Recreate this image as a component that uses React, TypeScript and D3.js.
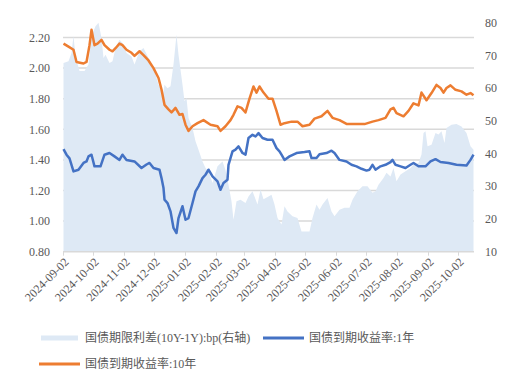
import React from 'react';
import * as d3 from 'd3';

// 国债期限利差(10Y-1Y), bp, right axis
const spread: [string, number][] = [
  ['2024-09-02', 67.7], ['2024-09-07', 68.2], ['2024-09-10', 70.7], ['2024-09-12', 75.9],
  ['2024-09-14', 69.7], ['2024-09-18', 65.2], ['2024-09-23', 65.2], ['2024-09-27', 67.2],
  ['2024-09-30', 75.9], ['2024-10-04', 78.9], ['2024-10-07', 80], ['2024-10-10', 75.3],
  ['2024-10-12', 69.2], ['2024-10-14', 70.2], ['2024-10-18', 67.7], ['2024-10-21', 68.2],
  ['2024-10-24', 72.3], ['2024-10-28', 74.8], ['2024-10-31', 73.8], ['2024-11-04', 70.7],
  ['2024-11-09', 69.7], ['2024-11-12', 67.2], ['2024-11-17', 71.3], ['2024-11-21', 72.3],
  ['2024-11-26', 69.2], ['2024-12-01', 66.2], ['2024-12-06', 61.0], ['2024-12-09', 59.6],
  ['2024-12-10', 57], ['2024-12-12', 61], ['2024-12-15', 60], ['2024-12-18', 60.6],
  ['2024-12-21', 67.2], ['2024-12-24', 76.3], ['2024-12-26', 70.2], ['2024-12-30', 61],
  ['2025-01-01', 56], ['2025-01-03', 57], ['2025-01-05', 50.9], ['2025-01-09', 47.8],
  ['2025-01-12', 43.8], ['2025-01-15', 41.2], ['2025-01-19', 37.6], ['2025-01-22', 35.6],
  ['2025-01-25', 34.6], ['2025-01-29', 31], ['2025-02-03', 36.1], ['2025-02-08', 37.6],
  ['2025-02-11', 35], ['2025-02-14', 30.5], ['2025-02-17', 25.4], ['2025-02-19', 19.8],
  ['2025-02-22', 25.4], ['2025-02-26', 25.9], ['2025-03-03', 24.9], ['2025-03-06', 26.9],
  ['2025-03-10', 28.5], ['2025-03-15', 24.4], ['2025-03-18', 29], ['2025-03-21', 26],
  ['2025-03-26', 26.9], ['2025-03-29', 27.4], ['2025-04-01', 24.4], ['2025-04-04', 20.3],
  ['2025-04-08', 18.3], ['2025-04-11', 23.9], ['2025-04-14', 22.3], ['2025-04-19', 20.8],
  ['2025-04-24', 20.3], ['2025-04-28', 16.2], ['2025-05-06', 16.2], ['2025-05-09', 20.3],
  ['2025-05-13', 24.4], ['2025-05-16', 22.8], ['2025-05-19', 24.4], ['2025-05-24', 26.4],
  ['2025-05-28', 22.3], ['2025-05-31', 20.8], ['2025-06-05', 22.8], ['2025-06-10', 23.4],
  ['2025-06-15', 23.4], ['2025-06-18', 25.9], ['2025-06-23', 28.5], ['2025-06-28', 30],
  ['2025-07-03', 30], ['2025-07-08', 28], ['2025-07-11', 28.5], ['2025-07-14', 30.5],
  ['2025-07-19', 32.5], ['2025-07-22', 34.1], ['2025-07-26', 33], ['2025-07-29', 35.6],
  ['2025-08-01', 31.5], ['2025-08-05', 33.6], ['2025-08-10', 34.6], ['2025-08-15', 35.6],
  ['2025-08-18', 36.6], ['2025-08-23', 37.1], ['2025-08-26', 39.7], ['2025-08-28', 46.3],
  ['2025-08-30', 46.8], ['2025-09-01', 42.2], ['2025-09-05', 42.7], ['2025-09-09', 46.3],
  ['2025-09-12', 45.8], ['2025-09-15', 46.8], ['2025-09-18', 43.2], ['2025-09-20', 47.8],
  ['2025-09-25', 48.8], ['2025-09-30', 49], ['2025-10-05', 48.3], ['2025-10-10', 46.3],
  ['2025-10-14', 42.2], ['2025-10-17', 41.2],
];

// 国债到期收益率:1年
const yield1y: [string, number][] = [
  ['2024-09-02', 1.47], ['2024-09-05', 1.434], ['2024-09-08', 1.41], ['2024-09-12', 1.325],
  ['2024-09-17', 1.336], ['2024-09-22', 1.38], ['2024-09-25', 1.39], ['2024-09-27', 1.423],
  ['2024-09-30', 1.434], ['2024-10-03', 1.358], ['2024-10-09', 1.358], ['2024-10-13', 1.434],
  ['2024-10-18', 1.445], ['2024-10-23', 1.423], ['2024-10-28', 1.40], ['2024-10-31', 1.434],
  ['2024-11-04', 1.40], ['2024-11-12', 1.39], ['2024-11-19', 1.347], ['2024-11-24', 1.37],
  ['2024-11-27', 1.38], ['2024-12-01', 1.347], ['2024-12-07', 1.336], ['2024-12-09', 1.281],
  ['2024-12-11', 1.216], ['2024-12-12', 1.14], ['2024-12-15', 1.118], ['2024-12-18', 1.064],
  ['2024-12-21', 0.955], ['2024-12-24', 0.922], ['2024-12-26', 1.02], ['2024-12-30', 1.097],
  ['2025-01-02', 1.009], ['2025-01-05', 1.02], ['2025-01-09', 1.118], ['2025-01-12', 1.194],
  ['2025-01-15', 1.227], ['2025-01-19', 1.281], ['2025-01-22', 1.303], ['2025-01-25', 1.336],
  ['2025-01-29', 1.292], ['2025-02-03', 1.26], ['2025-02-06', 1.205], ['2025-02-09', 1.249],
  ['2025-02-13', 1.27], ['2025-02-14', 1.368], ['2025-02-18', 1.456], ['2025-02-21', 1.467],
  ['2025-02-24', 1.488], ['2025-02-28', 1.445], ['2025-03-03', 1.434], ['2025-03-06', 1.543],
  ['2025-03-10', 1.564], ['2025-03-13', 1.553], ['2025-03-16', 1.575], ['2025-03-20', 1.543],
  ['2025-03-25', 1.532], ['2025-03-30', 1.532], ['2025-04-03', 1.477], ['2025-04-06', 1.456],
  ['2025-04-08', 1.434], ['2025-04-11', 1.40], ['2025-04-16', 1.423], ['2025-04-23', 1.445],
  ['2025-05-01', 1.451], ['2025-05-06', 1.456], ['2025-05-08', 1.412], ['2025-05-13', 1.412],
  ['2025-05-16', 1.437], ['2025-05-23', 1.445], ['2025-05-28', 1.46], ['2025-05-31', 1.445],
  ['2025-06-05', 1.40], ['2025-06-12', 1.39], ['2025-06-17', 1.368], ['2025-06-22', 1.358],
  ['2025-06-27', 1.342], ['2025-07-02', 1.33], ['2025-07-05', 1.336], ['2025-07-08', 1.368],
  ['2025-07-11', 1.336], ['2025-07-16', 1.358], ['2025-07-21', 1.368], ['2025-07-26', 1.386],
  ['2025-07-28', 1.40], ['2025-07-31', 1.368], ['2025-08-05', 1.358], ['2025-08-10', 1.347],
  ['2025-08-15', 1.368], ['2025-08-18', 1.38], ['2025-08-23', 1.358], ['2025-08-30', 1.358],
  ['2025-09-04', 1.39], ['2025-09-09', 1.405], ['2025-09-14', 1.386], ['2025-09-22', 1.38],
  ['2025-09-30', 1.368], ['2025-10-10', 1.363], ['2025-10-14', 1.40], ['2025-10-17', 1.434],
];

// 国债到期收益率:10年
const yield10y: [string, number][] = [
  ['2024-09-02', 2.16], ['2024-09-07', 2.14], ['2024-09-12', 2.12], ['2024-09-15', 2.04],
  ['2024-09-22', 2.03], ['2024-09-25', 2.04], ['2024-09-28', 2.15], ['2024-09-30', 2.25],
  ['2024-10-03', 2.15], ['2024-10-06', 2.16], ['2024-10-10', 2.185], ['2024-10-13', 2.15],
  ['2024-10-18', 2.12], ['2024-10-21', 2.11], ['2024-10-24', 2.13], ['2024-10-28', 2.16],
  ['2024-10-31', 2.15], ['2024-11-04', 2.12], ['2024-11-09', 2.10], ['2024-11-12', 2.08],
  ['2024-11-17', 2.11], ['2024-11-21', 2.085], ['2024-11-26', 2.05], ['2024-12-01', 2.00],
  ['2024-12-06', 1.935], ['2024-12-09', 1.86], ['2024-12-12', 1.76], ['2024-12-16', 1.73],
  ['2024-12-19', 1.71], ['2024-12-23', 1.74], ['2024-12-27', 1.695], ['2024-12-30', 1.70],
  ['2025-01-02', 1.63], ['2025-01-05', 1.59], ['2025-01-09', 1.62], ['2025-01-14', 1.64],
  ['2025-01-20', 1.66], ['2025-01-27', 1.63], ['2025-02-03', 1.62], ['2025-02-06', 1.59],
  ['2025-02-11', 1.62], ['2025-02-16', 1.66], ['2025-02-19', 1.695], ['2025-02-23', 1.75],
  ['2025-02-27', 1.74], ['2025-03-03', 1.71], ['2025-03-07', 1.80], ['2025-03-11', 1.88],
  ['2025-03-14', 1.84], ['2025-03-17', 1.88], ['2025-03-21', 1.84], ['2025-03-26', 1.80],
  ['2025-03-30', 1.80], ['2025-04-03', 1.72], ['2025-04-07', 1.63], ['2025-04-11', 1.64],
  ['2025-04-18', 1.65], ['2025-04-24', 1.65], ['2025-04-29', 1.62], ['2025-05-06', 1.63],
  ['2025-05-11', 1.67], ['2025-05-18', 1.685], ['2025-05-24', 1.72], ['2025-05-29', 1.675],
  ['2025-06-05', 1.66], ['2025-06-12', 1.635], ['2025-06-20', 1.635], ['2025-06-30', 1.634],
  ['2025-07-08', 1.65], ['2025-07-14', 1.66], ['2025-07-21', 1.675], ['2025-07-26', 1.73],
  ['2025-07-29', 1.74], ['2025-08-01', 1.706], ['2025-08-08', 1.685], ['2025-08-13', 1.72],
  ['2025-08-18', 1.77], ['2025-08-23', 1.756], ['2025-08-26', 1.84], ['2025-08-31', 1.79],
  ['2025-09-05', 1.837], ['2025-09-10', 1.89], ['2025-09-14', 1.87], ['2025-09-17', 1.84],
  ['2025-09-20', 1.87], ['2025-09-24', 1.887], ['2025-09-29', 1.858], ['2025-10-05', 1.848],
  ['2025-10-10', 1.826], ['2025-10-14', 1.837], ['2025-10-17', 1.822],
];

const tickDates = [
  '2024-09-02', '2024-10-02', '2024-11-02', '2024-12-02', '2025-01-02', '2025-02-02', '2025-03-02',
  '2025-04-02', '2025-05-02', '2025-06-02', '2025-07-02', '2025-08-02', '2025-09-02', '2025-10-02',
];
const leftTicks = [0.8, 1.0, 1.2, 1.4, 1.6, 1.8, 2.0, 2.2];
const rightTicks = [10, 20, 30, 40, 50, 60, 70, 80];

const parse = d3.timeParse('%Y-%m-%d');
const textColor = '#595959';
const serif = { fontFamily: 'Liberation Serif, Times New Roman, serif' };
const cjk = { fontFamily: 'Liberation Serif, Noto Sans CJK SC, serif' };

const App: React.FC = () => {
  const width = 514;
  const height = 387;

  const x = d3
    .scaleTime()
    .domain([parse('2024-09-02')!, parse('2025-10-17')!])
    .range([63.5, 473.5]);
  const yLeft = d3.scaleLinear().domain([0.8, 2.3]).range([251.7, 22.2]);
  const yRight = d3.scaleLinear().domain([10, 80]).range([251.7, 22.7]);

  const area = d3
    .area<[string, number]>()
    .x((d) => x(parse(d[0])!))
    .y0(yRight(10))
    .y1((d) => yRight(d[1]));
  const line = d3
    .line<[string, number]>()
    .x((d) => x(parse(d[0])!))
    .y((d) => yLeft(d[1]));

  const plotLeft = 63;
  const plotRight = 474;
  const baseY = yLeft(0.8);

  return (
    <svg width={width} height={height} style={{ position: 'absolute', left: 0, top: 0 }}>
      <rect width={width} height={height} fill="#fff" />
      {/* gridlines */}
      {leftTicks.slice(1).map((t) => (
        <line key={t} x1={plotLeft} x2={plotRight} y1={yLeft(t)} y2={yLeft(t)} stroke="#d9d9d9" strokeWidth={1.5} />
      ))}
      <path d={area(spread) ?? ''} fill="#dee9f5" />
      {/* x axis */}
      <line x1={plotLeft} x2={plotRight} y1={baseY} y2={baseY} stroke="#d9d9d9" strokeWidth={1.5} />
      {tickDates.map((t) => {
        const tx = x(parse(t)!);
        return (
          <g key={t}>
            <line x1={tx} x2={tx} y1={baseY} y2={baseY + 4} stroke="#d9d9d9" strokeWidth={1} />
            <text
              transform={`translate(${tx + 3},${baseY + 8}) rotate(-45)`}
              textAnchor="end"
              dy="0.35em"
              fontSize={12}
              fill={textColor}
              style={serif}
            >
              {t}
            </text>
          </g>
        );
      })}
      <path d={line(yield10y) ?? ''} fill="none" stroke="#ed7d31" strokeWidth={2.5} strokeLinejoin="round" />
      <path d={line(yield1y) ?? ''} fill="none" stroke="#4472c4" strokeWidth={2.5} strokeLinejoin="round" />
      {/* left axis labels */}
      {leftTicks.map((t) => (
        <text key={t} x={50} y={yLeft(t)} dy="0.35em" textAnchor="end" fontSize={12} fill={textColor} style={serif}>
          {t.toFixed(2)}
        </text>
      ))}
      {/* right axis labels */}
      {rightTicks.map((t) => (
        <text key={t} x={485} y={yRight(t)} dy="0.35em" textAnchor="start" fontSize={12} fill={textColor} style={serif}>
          {t}
        </text>
      ))}
      {/* legend */}
      <rect x={41} y={335.5} width={37} height={5} fill="#dee9f5" />
      <text x={85} y={338} dy="0.35em" fontSize={12} fill={textColor} style={cjk}>
        国债期限利差(10Y-1Y):bp(右轴)
      </text>
      <line x1={263} x2={304} y1={338} y2={338} stroke="#4472c4" strokeWidth={3} />
      <text x={309} y={338} dy="0.35em" fontSize={12} fill={textColor} style={cjk}>
        国债到期收益率:1年
      </text>
      <line x1={39} x2={80} y1={364} y2={364} stroke="#ed7d31" strokeWidth={3} />
      <text x={85} y={364} dy="0.35em" fontSize={12} fill={textColor} style={cjk}>
        国债到期收益率:10年
      </text>
    </svg>
  );
};

export default App;
